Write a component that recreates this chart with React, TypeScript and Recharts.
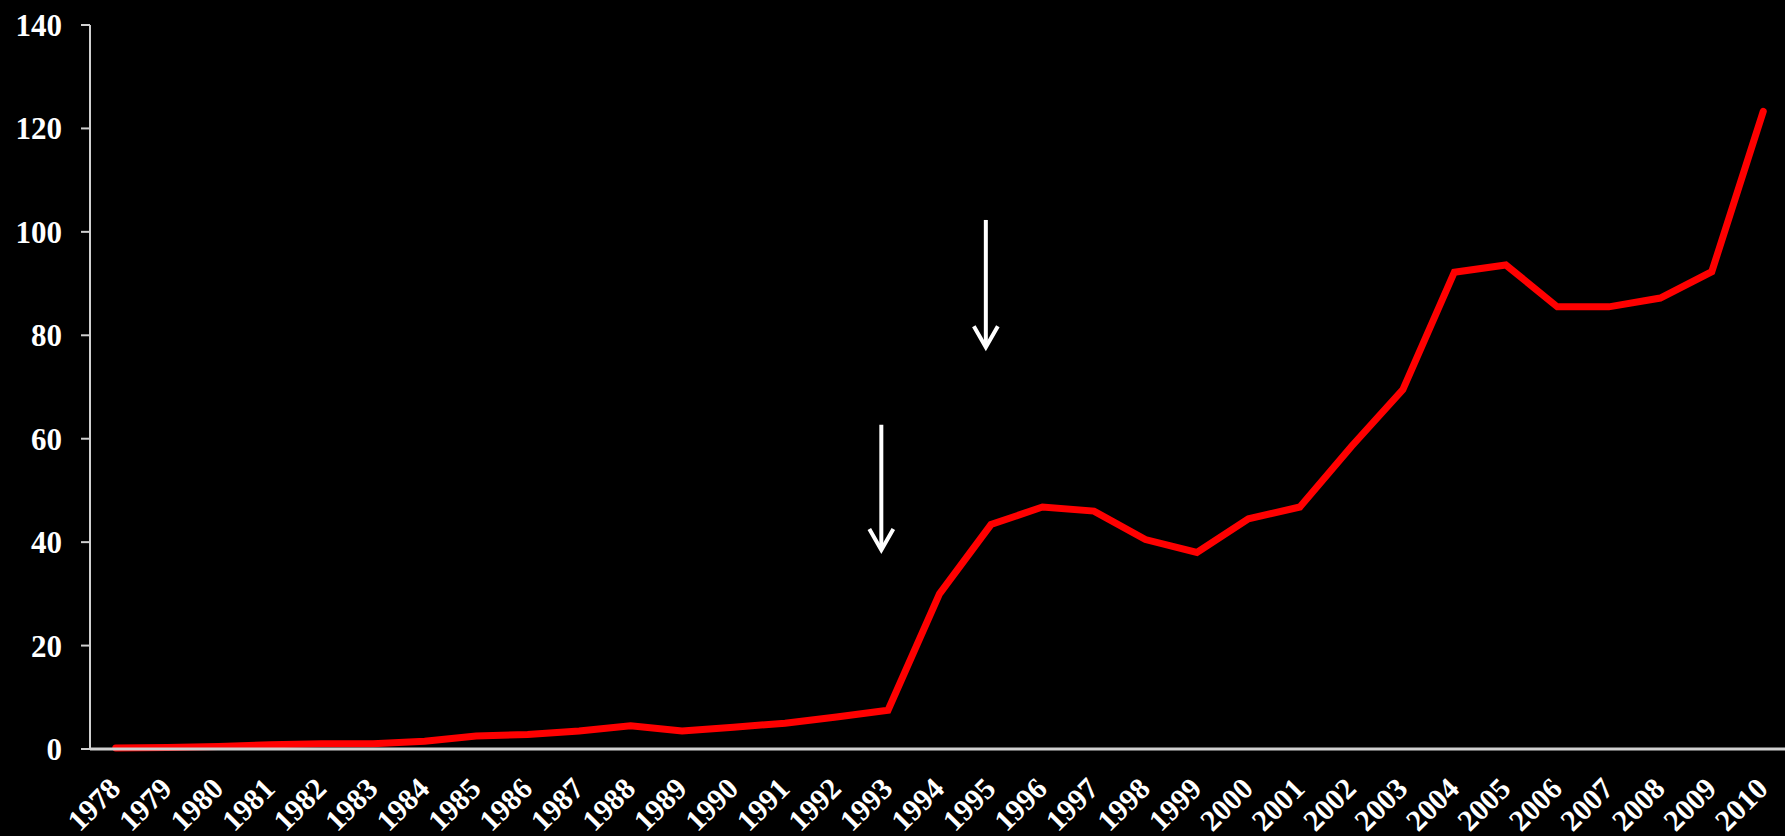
import { LineChart, Line, XAxis, YAxis, ReferenceLine } from "recharts";

/* ── data ── */

const years = [
  1978, 1979, 1980, 1981, 1982, 1983, 1984, 1985, 1986, 1987, 1988, 1989,
  1990, 1991, 1992, 1993, 1994, 1995, 1996, 1997, 1998, 1999, 2000, 2001,
  2002, 2003, 2004, 2005, 2006, 2007, 2008, 2009, 2010,
];

const values = [
  0.2, 0.3, 0.5, 0.8, 1.0, 1.0, 1.5, 2.5, 2.8, 3.5, 4.5, 3.5, 4.2, 5.0, 6.2,
  7.5, 30.0, 43.4, 46.8, 46.0, 40.5, 38.0, 44.5, 46.8, 58.5, 69.5, 92.2, 93.6,
  85.5, 85.5, 87.2, 92.3, 123.3,
];

const yTicks = [0, 20, 40, 60, 80, 100, 120, 140];

// the two white arrows: x position (year), top and tip (value)
const arrowX = [1992.87, 1994.9];
const arrowTop = [62.7, 102.3];
const arrowTip = [38.5, 77.7];

const data = years.map((year, i) => ({ year, value: values[i] }));

const FONT = '"Liberation Serif", "Times New Roman", serif';
const AXIS = "#d0d0d0";

/* ── rotated year labels ── */

function YearTick({ x, y, payload }: any) {
  return (
    <g transform={`translate(${x - 1},${y + 34})`}>
      <text
        x={0}
        y={0}
        dy="0.35em"
        textAnchor="end"
        transform="rotate(-45)"
        fill="#ffffff"
        fontFamily={FONT}
        fontWeight="bold"
        fontSize={30}
      >
        {payload.value}
      </text>
    </g>
  );
}

/* ── arrow drawn along a reference segment ── */

function ArrowShape(props: any) {
  const { x1, y1, x2, y2 } = props;
  return (
    <g>
      <line x1={x1} y1={y1} x2={x2} y2={y2 - 3} stroke="#ffffff" strokeWidth={4} />
      <polyline
        points={`${x2 - 12},${y2 - 21} ${x2},${y2} ${x2 + 12},${y2 - 21}`}
        fill="none"
        stroke="#ffffff"
        strokeWidth={4}
      />
    </g>
  );
}

export default function App() {
  return (
    <div
      style={{
        position: "fixed",
        top: 0,
        left: 0,
        width: 1785,
        height: 836,
        background: "#000000",
        overflow: "hidden",
      }}
    >
      <LineChart
        width={1785}
        height={836}
        data={data}
        margin={{ top: 25, right: -4, bottom: 0, left: 0 }}
      >
        <XAxis
          dataKey="year"
          type="number"
          domain={[1977.5, 2010.5]}
          ticks={years}
          interval={0}
          height={87}
          tickLine={false}
          tickSize={0}
          tickMargin={0}
          axisLine={{ stroke: AXIS, strokeWidth: 3 }}
          tick={<YearTick />}
        />
        <YAxis
          domain={[0, 140]}
          ticks={yTicks}
          width={90}
          tickSize={9}
          tickMargin={19}
          axisLine={{ stroke: AXIS, strokeWidth: 2 }}
          tickLine={{ stroke: AXIS, strokeWidth: 2 }}
          tick={{
            fill: "#ffffff",
            fontFamily: FONT,
            fontWeight: "bold",
            fontSize: 31,
          }}
        />
        {arrowX.map((ax, i) => (
          <ReferenceLine
            key={i}
            segment={[
              { x: ax, y: arrowTop[i] },
              { x: ax, y: arrowTip[i] },
            ]}
            shape={ArrowShape}
            ifOverflow="visible"
          />
        ))}
        <Line
          type="linear"
          dataKey="value"
          stroke="#ff0000"
          strokeWidth={7}
          strokeLinecap="round"
          dot={false}
          activeDot={false}
          isAnimationActive={false}
        />
      </LineChart>
    </div>
  );
}
